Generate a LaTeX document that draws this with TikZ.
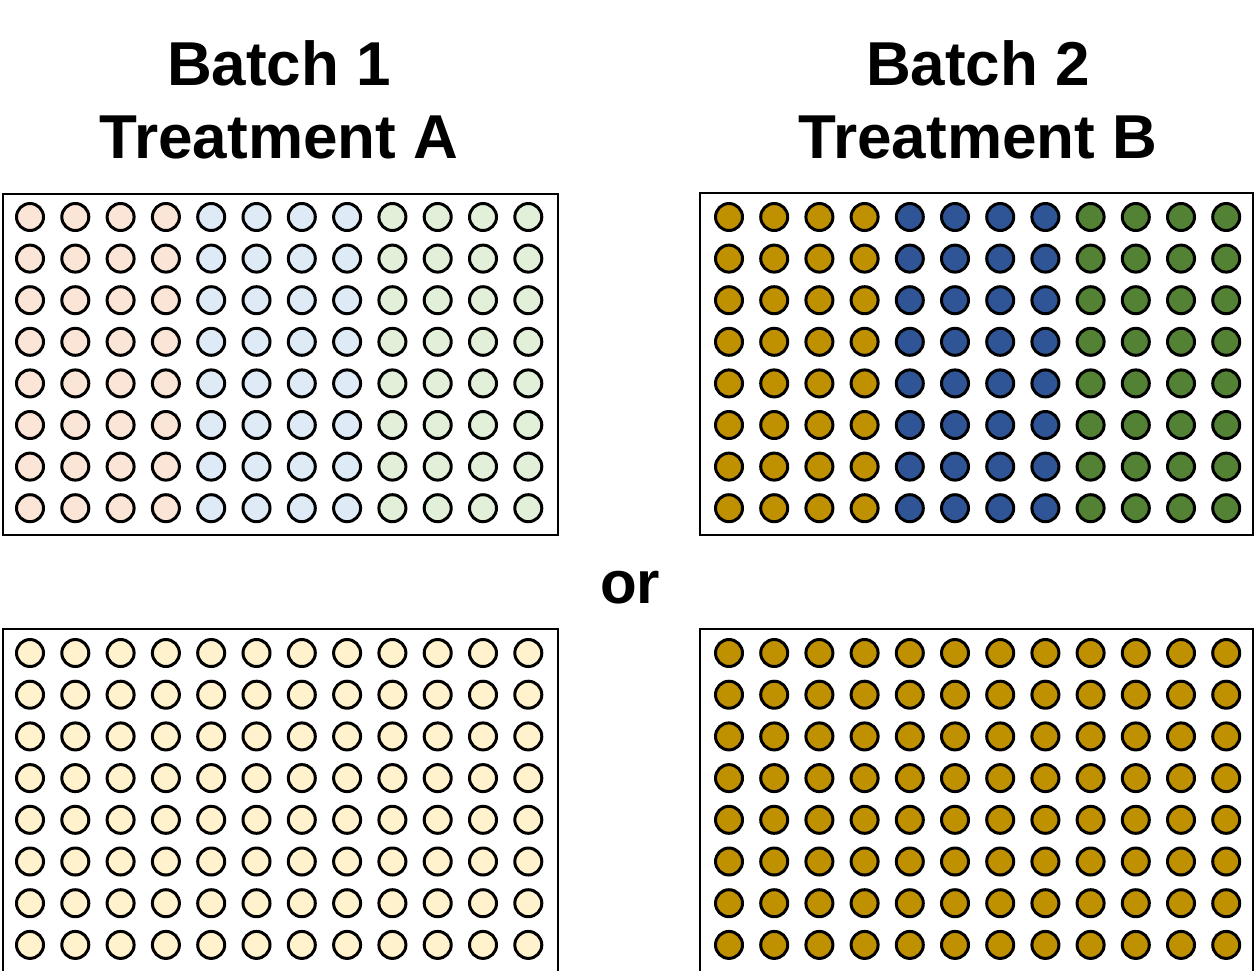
\documentclass[tikz,border=0pt]{standalone}
\usepackage{fontspec}
\setmainfont{Liberation Sans}
\definecolor{cpeach}{HTML}{FBE5D6}
\definecolor{cltblue}{HTML}{DEEBF7}
\definecolor{cltgreen}{HTML}{E2F0D9}
\definecolor{cltyellow}{HTML}{FFF2CC}
\definecolor{cgold}{HTML}{BF9000}
\definecolor{cdblue}{HTML}{2F5597}
\definecolor{cdgreen}{HTML}{548235}
\tikzset{
  plate/.style={draw=black, line width=1.5pt, fill=white},
  well/.style={draw=black, line width=3pt},
  title/.style={font=\fontsize{62}{75}\selectfont\bfseries, align=center, inner sep=0pt},
}
\begin{document}
\begin{tikzpicture}[x=1pt,y=-1pt]
\useasboundingbox (0,0) rectangle (1258,970);
\clip (0,0) rectangle (1258,970);
\node[title, anchor=base] (b1) at (279,85) {Batch 1};
\node[title, anchor=base] (t1) at (279,158) {Treatment A};
\node[title, anchor=base] (b2) at (978,85) {Batch 2};
\node[title, anchor=base] (t2) at (978,158) {Treatment B};
\node[font=\fontsize{60}{72}\selectfont\bfseries, anchor=base, inner sep=0pt] (or) at (630,603) {or};
% plates
\draw[plate] (3,194) rectangle (558,535);
\draw[plate] (700,193) rectangle (1253,535);
\draw[plate] (3,629) rectangle (558,990);
\draw[plate] (700,629) rectangle (1253,990);
% wells
\foreach \c in {0,...,11}{
  \foreach \r in {0,...,7}{
    \pgfmathtruncatemacro{\grp}{int(\c/4)}
    \ifcase\grp \def\ca{cpeach}\def\cb{cgold}\or \def\ca{cltblue}\def\cb{cdblue}\else \def\ca{cltgreen}\def\cb{cdgreen}\fi
    \fill[\ca, draw=black, line width=3pt] ({30+\c*45.3},{217+\r*41.6}) circle (13.5);
    \fill[\cb, draw=black, line width=3pt] ({729+\c*45.2},{217+\r*41.6}) circle (13.5);
    \fill[cltyellow, draw=black, line width=3pt] ({30+\c*45.3},{653+\r*41.7}) circle (13.5);
    \fill[cgold, draw=black, line width=3pt] ({729+\c*45.2},{653+\r*41.7}) circle (13.5);
  }
}
\end{tikzpicture}
\end{document}
